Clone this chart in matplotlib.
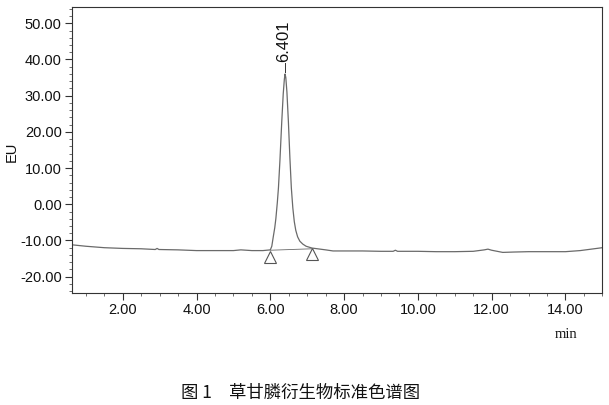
import matplotlib
matplotlib.use("Agg")
import matplotlib.pyplot as plt
from matplotlib.ticker import MultipleLocator, FormatStrFormatter

plt.rcParams['font.family'] = ['Liberation Sans', 'DejaVu Sans']

# chromatogram trace (min, EU)
times = [0.62, 1.0, 1.5, 2.0, 2.5, 2.88, 2.93, 2.98, 3.5, 4.0, 4.5, 5.0, 5.2, 5.5, 5.8,
         6.0, 6.04, 6.08, 6.12, 6.15, 6.19, 6.22, 6.26, 6.31, 6.35, 6.38, 6.40, 6.42,
         6.45, 6.49, 6.53, 6.57, 6.61, 6.65, 6.69, 6.74, 6.80, 6.88, 6.97, 7.13,
         7.5, 7.7, 8.0, 8.5, 9.0, 9.33, 9.39, 9.45, 10.0, 10.5, 11.0, 11.5,
         11.8, 11.9, 12.0, 12.3, 12.6, 13.0, 13.5, 14.0, 14.4, 14.7, 15.0]
signal = [-11.2, -11.6, -12.0, -12.2, -12.3, -12.5, -12.2, -12.5, -12.6, -12.8, -12.8,
          -12.8, -12.6, -12.8, -12.8,
          -12.6, -11.6, -9.0, -6.5, -4.0, 0.5, 4.5, 12.0, 22.8, 30.5, 34.5, 36.0, 35.0,
          31.0, 22.8, 13.0, 4.5, -1.0, -4.8, -7.2, -9.0, -10.2, -11.0, -11.6, -12.1,
          -12.6, -12.9, -12.9, -12.9, -13.0, -13.0, -12.7, -13.0, -13.0,
          -13.1, -13.1, -13.0, -12.6, -12.4, -12.7, -13.3, -13.2, -13.1, -13.1, -13.1,
          -12.8, -12.4, -12.0]

# integration baseline and peak start/end markers
base_times = [6.0, 7.13]
base_levels = [-12.7, -12.3]
marker_times = [6.0, 7.12]
marker_levels = [-14.6, -13.7]

peak_time = 6.401
peak_height = 36.0
peak_label = "6.401"

x_ticks = [2.0, 4.0, 6.0, 8.0, 10.0, 12.0, 14.0]
y_ticks = [-20.0, -10.0, 0.0, 10.0, 20.0, 30.0, 40.0, 50.0]

W, H = 609, 405
fig = plt.figure(figsize=(W / 100, H / 100), dpi=100)
ax = fig.add_axes([71.5 / W, 1 - 293.3 / H, (602.3 - 71.5) / W, (293.3 - 7) / H])

line_c = '#6a6a6a'
ax.plot(times, signal, color=line_c, lw=0.9)
ax.plot(base_times, base_levels, color=line_c, lw=0.6)
ax.plot(marker_times, marker_levels, linestyle='none', marker='^', markersize=9,
        markerfacecolor='white', markeredgecolor='#555555', markeredgewidth=0.8)

# peak label
ax.plot([peak_time, peak_time], [peak_height + 0.5, peak_height + 3.0], color='#333333', lw=0.7)
ax.text(peak_time - 0.05, peak_height + 3.2, peak_label, rotation=90, ha='center', va='bottom',
        fontsize=12, color='#111111')

ax.set_xlim(0.61, 15.0)
ax.set_ylim(-24.6, 54.5)
ax.set_xticks(x_ticks)
ax.set_yticks(y_ticks)
ax.xaxis.set_major_formatter(FormatStrFormatter('%.2f'))
ax.yaxis.set_major_formatter(FormatStrFormatter('%.2f'))
ax.xaxis.set_minor_locator(MultipleLocator(0.5))
ax.yaxis.set_minor_locator(MultipleLocator(2.0))
ax.tick_params(which='major', direction='out', length=5, width=0.8, labelsize=10.5,
               colors='#333333', labelcolor='#111111', pad=2)
ax.tick_params(which='minor', direction='out', length=2.5, width=0.6, colors='#555555')
for s in ax.spines.values():
    s.set_linewidth(0.8)
    s.set_color('#333333')

fig.text(12 / W, 1 - 152 / H, 'EU', rotation=90, ha='center', va='center', fontsize=10.5,
         color='#111111')
fig.text(565.7 / W, 1 - 334 / H, 'min', ha='center', va='center', fontsize=10.5,
         family=['Liberation Serif'], color='#111111')

cjk = ['Noto Sans CJK SC', 'DejaVu Sans']
fig.text(181 / W, 1 - 393 / H, '图 1', ha='left', va='center', fontsize=12.5, family=cjk,
         color='#111111')
fig.text(229 / W, 1 - 393 / H, '草甘膦衍生物标准色谱图', ha='left', va='center', fontsize=12.5,
         family=cjk, color='#111111')

fig.savefig('out.png', dpi=100)
